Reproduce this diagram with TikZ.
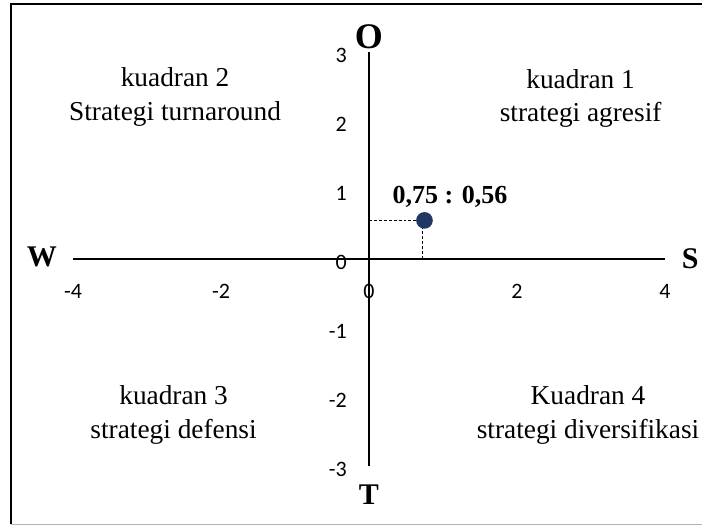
\documentclass[tikz,border=0pt]{standalone}
\usepackage{fontspec}
\setmainfont{Liberation Serif}
\newfontfamily\tickfont{Carlito}
\usepackage{tikz}
\usetikzlibrary{positioning, calc}
\definecolor{dotblue}{RGB}{31,56,100}

\begin{document}
\begin{tikzpicture}[x=55.5pt, y=51.75pt, every node/.style={inner sep=0pt},
    axis/.style={line width=1.5pt},
    guide/.style={dashed, line width=0.75pt, dash pattern=on 2.2pt off 1.5pt},
    tick/.style={font=\tickfont\fontsize{16.5}{18}\selectfont},
    pole/.style={font=\fontsize{22.5}{26}\selectfont\bfseries},
    quadtext/.style={font=\fontsize{20.5}{25}\selectfont, align=center}]
        \useasboundingbox (-4.986,-3.884) rectangle (4.5,3.754);

        % Frame
        \draw [line width=1.8pt] (-4.838,-3.841) -- (-4.838,3.696) -- (4.6,3.696);
        \draw [gray!60, line width=0.75pt] (-4.838,-3.841) -- (4.6,-3.841);

        % Axes
        \coordinate (west) at (-4,0);
        \coordinate (east) at (4,0);
        \coordinate (north) at (0,3);
        \coordinate (south) at (0,-3);
        \draw [axis] (west) -- (east);
        \draw [axis] (north) -- (south);

        % Tick labels
        \foreach \x in {-4,-2,0,2,4}
            \node (xt\x) [tick] at (\x,-0.464) {\x};
        \foreach \y in {-3,...,3}
            \node (yt\y) [tick, anchor=east] at (-0.297,\y-0.05) {\y};

        % Poles
        \node (O) [pole, font=\fontsize{27}{30}\selectfont\bfseries] at (0,3.22) {O};
        \node (W) [pole] at (-4.42,0.03) {W};
        \node (S) [pole] at (4.34,0.01) {S};
        \node (T) [pole] at (0,-3.42) {T};

        % Quadrants
        \node (q1) [quadtext] at (2.86,2.33) {kuadran 1\\strategi agresif};
        \node (q2) [quadtext] at (-2.62,2.35) {kuadran 2\\Strategi turnaround};
        \node (q3) [quadtext] at (-2.64,-2.26) {kuadran 3\\strategi defensi};
        \node (q4) [quadtext] at (2.96,-2.26) {Kuadran 4\\strategi diversifikasi};

        % Position
        \coordinate (ptx) at (0.72,0);
        \coordinate (pty) at (0,0.56);
        \draw [guide] (pty) -- (0.72,0.56) -- (ptx);
        \node (pt) [circle, fill=dotblue, minimum size=12.5pt] at (0.75,0.56) {};
        \node (ptlabel) [font=\fontsize{19.5}{22}\selectfont\bfseries] at (1.095,0.899) {0,75 : 0,56};

    \end{tikzpicture}
\end{document}
